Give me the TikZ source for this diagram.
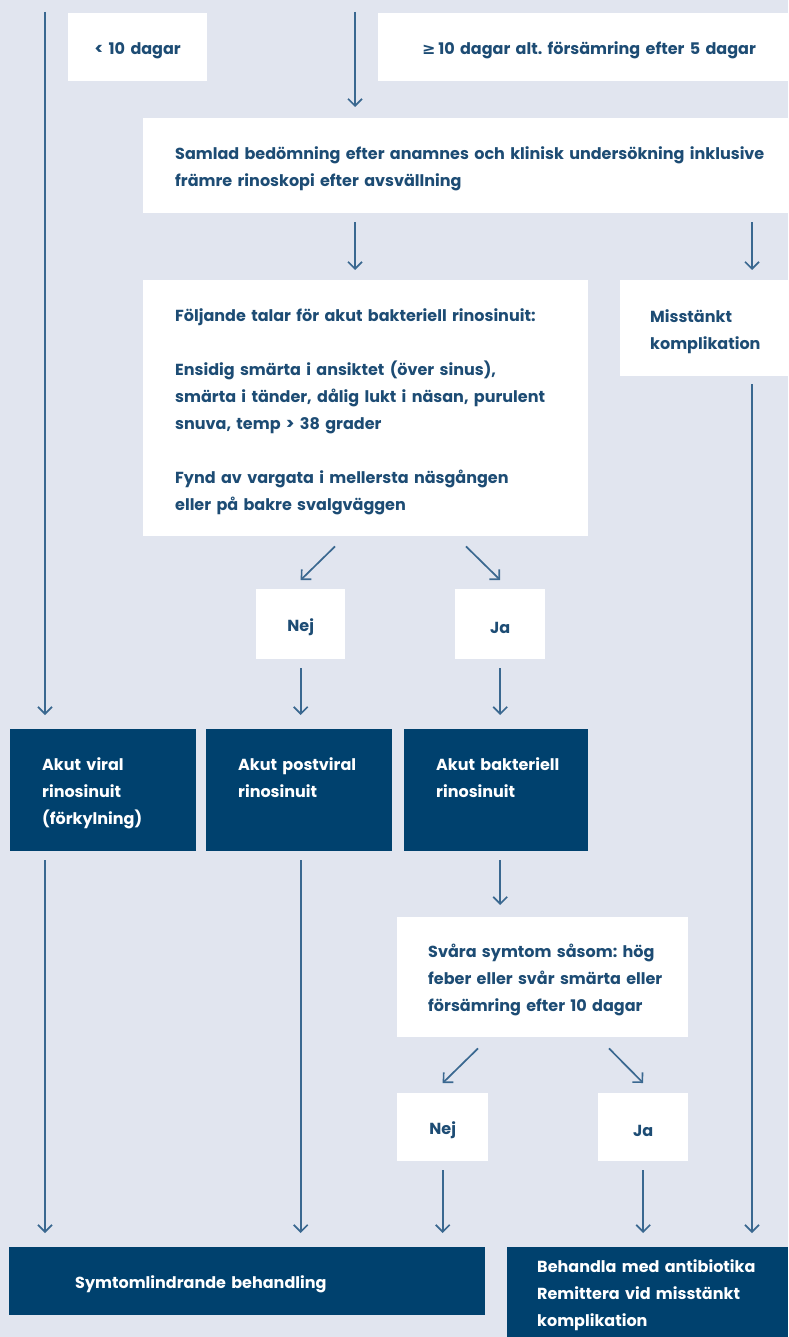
\documentclass[tikz,border=0pt]{standalone}
\usepackage{fontspec}
\setmainfont{Poppins}
\newfontfamily\symfont{DejaVu Sans}
\usetikzlibrary{positioning,calc,arrows.meta}
\definecolor{bgblue}{HTML}{E1E5EF}
\definecolor{navy}{HTML}{00416E}
\definecolor{inkblue}{HTML}{1D4C74}
\definecolor{arrowblue}{HTML}{3A6890}
\frenchspacing

\begin{document}
\begin{tikzpicture}[
    x=1pt, y=-1pt,
    box/.style={rectangle, anchor=north west, inner sep=0pt, align=left, text height=19pt, font=\bfseries\fontsize{16}{27}\selectfont},
    whitebox/.style={box, fill=white, text=inkblue},
    navybox/.style={box, fill=navy, text=white},
    toptext/.style={text depth=58pt},
    padleft/.style={execute at begin node={\leftskip=#1\relax}},
    arrow/.style={-{Straight Barb[length=7pt,width=14pt]}, line width=1.7pt, draw=arrowblue}
]
    % Background
    \useasboundingbox (0,0) rectangle (788,1337);
    \fill[bgblue] (0,0) rectangle (788,1337);

    % Duration
    \node[whitebox, align=center, text width=139pt, minimum height=68pt] (kort) at (68,13) {< 10 dagar};
    \node[whitebox, padleft=44pt, text width=410pt, minimum height=68pt] (lang) at (378,13) {{\symfont\bfseries ≥}\,10 dagar alt. försämring efter 5 dagar};

    % Assessment
    \node[whitebox, padleft=32pt, text width=645pt, minimum height=95pt] (samlad) at (143,118) {Samlad bedömning efter anamnes och klinisk undersökning inklusive\\främre rinoskopi efter avsvällning};
    \node[whitebox, padleft=32pt, text width=445pt, minimum height=256pt] (fakta) at (143,280) {Följande talar för akut bakteriell rinosinuit:\\[27pt]Ensidig smärta i ansiktet (över sinus),\\smärta i tänder, dålig lukt i näsan, purulent\\snuva, temp > 38 grader\\[27pt]Fynd av vargata i mellersta näsgången\\eller på bakre svalgväggen};
    \node[whitebox, padleft=30pt, text width=168pt, minimum height=96pt] (misstankt) at (620,280) {Misstänkt\\komplikation};
    \node[whitebox, align=center, text width=89pt, minimum height=70pt] (nej1) at (256,589) {Nej};
    \node[whitebox, align=center, text width=90pt, minimum height=70pt] (ja1) at (455,589) {Ja};

    % Diagnoses
    \node[navybox, toptext, padleft=32pt, text width=186pt, minimum height=122pt] (viral) at (10,729) {Akut viral\\rinosinuit\\(förkylning)};
    \node[navybox, toptext, padleft=32pt, text width=186pt, minimum height=122pt] (postviral) at (206,729) {Akut postviral\\rinosinuit};
    \node[navybox, toptext, padleft=32pt, text width=184pt, minimum height=122pt] (bakt) at (404,729) {Akut bakteriell\\rinosinuit};

    % Severity
    \node[whitebox, padleft=31pt, text width=291pt, minimum height=120pt] (svara) at (397,917) {Svåra symtom såsom: hög\\feber eller svår smärta eller\\försämring efter 10 dagar};
    \node[whitebox, align=center, text width=91pt, minimum height=68pt] (nej2) at (397,1093) {Nej};
    \node[whitebox, align=center, text width=90pt, minimum height=68pt] (ja2) at (598,1093) {Ja};

    % Treatment
    \node[navybox, padleft=66pt, text width=476pt, minimum height=68pt] (symtom) at (9,1247) {Symtomlindrande behandling};
    \node[navybox, padleft=30pt, text width=281pt, minimum height=90pt] (behandla) at (507,1247) {Behandla med antibiotika\\Remittera vid misstänkt\\komplikation};

    % Columns
    \coordinate (colA) at (45,12);
    \coordinate (colB) at (355,12);
    \coordinate (colR) at (752,12);

    % Arrows
    \draw[arrow, shorten >=14pt] (colA) -- (viral.north -| colA);
    \draw[arrow, shorten >=11pt] (colB) -- (samlad.north -| colB);
    \draw[arrow, shorten <=9pt, shorten >=10pt] (samlad.south -| colB) -- (fakta.north -| colB);
    \draw[arrow, shorten <=9pt, shorten >=10pt] (samlad.south -| colR) -- (misstankt.north -| colR);
    \draw[arrow] ($(fakta.south west)+(192,10)$) -- ($(nej1.north)+(0,-9)$);
    \draw[arrow] ($(fakta.south west)+(323,10)$) -- ($(ja1.north)+(0,-9)$);
    \draw[arrow, shorten <=9pt, shorten >=14pt] (nej1.south) -- (postviral.north -| nej1.south);
    \draw[arrow, shorten <=9pt, shorten >=14pt] (ja1.south) -- (bakt.north -| ja1.south);
    \draw[arrow, shorten <=9pt, shorten >=14pt] (viral.south -| colA) -- (symtom.north -| colA);
    \draw[arrow, shorten <=9pt, shorten >=14pt] (postviral.south -| nej1.south) -- (symtom.north -| nej1.south);
    \draw[arrow, shorten <=9pt, shorten >=12pt] (bakt.south -| ja1.south) -- (svara.north -| ja1.south);
    \draw[arrow] ($(svara.south west)+(81,11)$) -- ($(nej2.north)+(0,-10)$);
    \draw[arrow] ($(svara.south west)+(212,11)$) -- ($(ja2.north)+(0,-10)$);
    \draw[arrow, shorten <=9pt, shorten >=14pt] (nej2.south) -- (symtom.north -| nej2.south);
    \draw[arrow, shorten <=9pt, shorten >=14pt] (ja2.south) -- (behandla.north -| ja2.south);
    \draw[arrow, shorten <=8pt, shorten >=14pt] (misstankt.south -| colR) -- (behandla.north -| colR);

\end{tikzpicture}
\end{document}
